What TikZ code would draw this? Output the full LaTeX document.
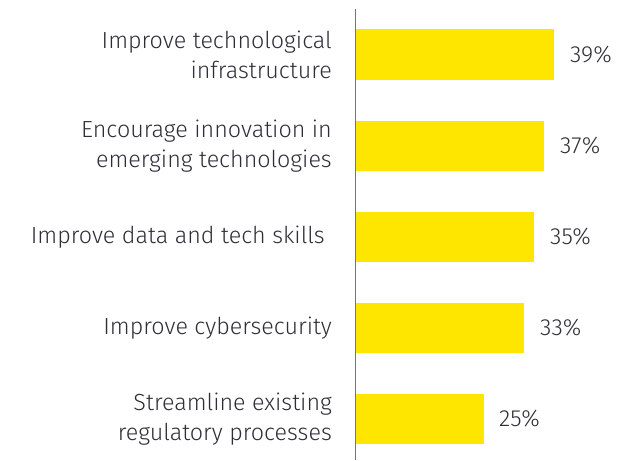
\documentclass[tikz,border=0pt]{standalone}
\usepackage{fontspec}
\setmainfont{Fira Sans}[UprightFont=* Light]
\definecolor{eyyellow}{HTML}{FFE600}
\definecolor{eytext}{HTML}{2E2E38}
\definecolor{eyaxis}{HTML}{747480}
\begin{document}
\begin{tikzpicture}[x=1pt,y=-1pt,
  bar/.style={fill=eyyellow,draw=none},
  cat/.style={anchor=east,align=right,inner sep=0pt,text=eytext,font=\fontsize{23.3}{30}\selectfont},
  val/.style={anchor=west,inner sep=0pt,text=eytext,font=\fontsize{23.3}{30}\selectfont},
  axisline/.style={draw=eyaxis,line width=1.6pt}]
\useasboundingbox (0,0) rectangle (617,460);
% bars
\path[bar] (356,29.5) rectangle (553.5,80) coordinate (b1);
\path[bar] (356,120.5) rectangle (543.5,171) coordinate (b2);
\path[bar] (356,211.5) rectangle (533.5,262) coordinate (b3);
\path[bar] (356,302.5) rectangle (523.5,353) coordinate (b4);
\path[bar] (356,393.5) rectangle (483.5,444) coordinate (b5);
% axis
\coordinate (atop) at (355.5,9);
\coordinate (abot) at (355.5,460);
\draw[axisline] (atop) -- (abot);
% category labels
\node[cat] (c1) at (332,55) {Improve technological\\infrastructure};
\node[cat] (c2) at (332,146) {Encourage innovation in\\emerging technologies};
\node[cat] (c3) at (325,237) {Improve data and tech skills};
\node[cat] (c4) at (332,328) {Improve cybersecurity};
\node[cat] (c5) at (332,419) {Streamline existing\\regulatory processes};
% values
\node[val] (v1) at (570,55) {39\%};
\node[val] (v2) at (560,146) {37\%};
\node[val] (v3) at (550,237) {35\%};
\node[val] (v4) at (540,328) {33\%};
\node[val] (v5) at (499,419) {25\%};
\end{tikzpicture}
\end{document}
